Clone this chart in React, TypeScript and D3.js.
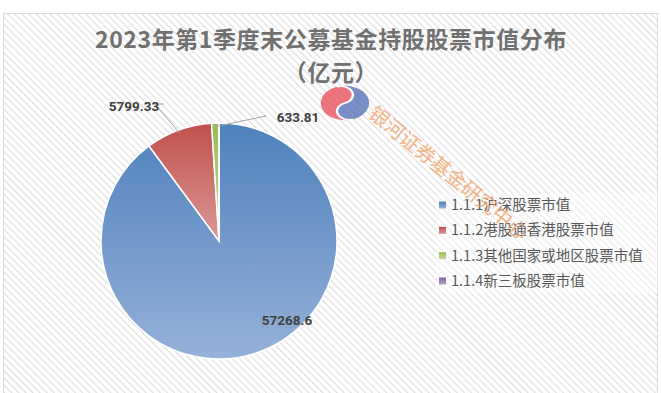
import React, { useEffect, useRef } from 'react';
import * as d3 from 'd3';

const categories = ['1.1.1沪深股票市值', '1.1.2港股通香港股票市值', '1.1.3其他国家或地区股票市值', '1.1.4新三板股票市值'];
const values = [57268.6, 5799.33, 633.81, 5];
const valueLabels = ['57268.6', '5799.33', '633.81', ''];
const colorsTop = ['#4F81BD', '#C0504D', '#9BBB59', '#8064A2'];
const colorsBottom = ['#95B1D8', '#DA9896', '#C3D69B', '#B3A2C7'];
const titleLines = ['2023年第1季度末公募基金持股股票市值分布', '（亿元）'];
const watermark = '银河证券基金研究中心';

const W = 662;
const H = 393;

export default function App() {
  const ref = useRef<SVGSVGElement>(null);

  useEffect(() => {
    const svg = d3.select(ref.current);
    svg.selectAll('*').remove();

    const defs = svg.append('defs');
    const pat = defs.append('pattern')
      .attr('id', 'hatch')
      .attr('width', 5)
      .attr('height', 5)
      .attr('patternUnits', 'userSpaceOnUse')
      .attr('patternTransform', 'rotate(-45)');
    pat.append('rect').attr('width', 5).attr('height', 5).attr('fill', '#ffffff');
    pat.append('line')
      .attr('x1', 0).attr('y1', 0).attr('x2', 0).attr('y2', 5)
      .attr('stroke', '#dedede').attr('stroke-width', 2.2);

    colorsTop.forEach((c, i) => {
      const g = defs.append('linearGradient')
        .attr('id', 'grad' + i)
        .attr('x1', 0).attr('y1', 0).attr('x2', 0).attr('y2', 1);
      g.append('stop').attr('offset', '0%').attr('stop-color', c);
      g.append('stop').attr('offset', '100%').attr('stop-color', colorsBottom[i]);
    });

    // chart area
    svg.append('rect')
      .attr('x', 3.5).attr('y', 13.5)
      .attr('width', 654).attr('height', 390)
      .attr('fill', 'url(#hatch)')
      .attr('stroke', '#d9d9d9');

    // title
    titleLines.forEach((t, i) => {
      svg.append('text')
        .attr('x', 331)
        .attr('y', 48 + i * 33)
        .attr('text-anchor', 'middle')
        .attr('font-family', '"Noto Sans CJK SC", sans-serif')
        .attr('font-size', 23)
        .attr('letter-spacing', 0.6)
        .attr('font-weight', 'bold')
        .attr('fill', '#707070')
        .text(t);
    });

    const cx = 219;
    const cy = 241;
    const r = 118;

    const pie = d3.pie<number>().sort(null).value(d => d);
    const arcs = pie(values);
    const arc = d3.arc<d3.PieArcDatum<number>>().innerRadius(0).outerRadius(r);

    const g = svg.append('g').attr('transform', `translate(${cx},${cy})`);
    g.selectAll('path')
      .data(arcs)
      .enter().append('path')
      .attr('d', arc)
      .attr('fill', (d, i) => `url(#grad${i})`)
      .attr('stroke', '#ffffff')
      .attr('stroke-width', 1.5);

    // leader lines and labels
    const outer = d3.arc<d3.PieArcDatum<number>>().innerRadius(r * 0.97).outerRadius(r * 0.97);
    const labelPos = [
      { x: 287, y: 320, elbow: null as null | [number, number], end: [0, 0] },
      { x: 134, y: 106, elbow: [-64, -137] as [number, number], end: [-55, -137] },
      { x: 298, y: 117, elbow: [47, -125] as [number, number], end: [45, -125] },
    ];
    arcs.forEach((a, i) => {
      if (!valueLabels[i]) return;
      const lp = labelPos[i];
      if (lp.elbow) {
        const p = outer.centroid(a);
        g.append('polyline')
          .attr('points', [[p[0], p[1]], lp.elbow, lp.end].map(q => q.join(',')).join(' '))
          .attr('fill', 'none')
          .attr('stroke', '#a6a6a6')
          .attr('stroke-width', 1);
      }
      svg.append('text')
        .attr('x', lp.x)
        .attr('y', lp.y + 4.5)
        .attr('text-anchor', 'middle')
        .attr('font-family', 'Roboto, sans-serif')
        .attr('font-size', 13.5)
        .attr('font-weight', 'bold')
        .attr('fill', '#404040')
        .text(valueLabels[i]);
    });

    // legend
    const leg = svg.append('g').attr('transform', 'translate(436,193)');
    leg.append('rect')
      .attr('x', 0).attr('y', 0).attr('width', 222).attr('height', 100)
      .attr('fill', '#ffffff').attr('opacity', 0.4);
    const rowY = d3.scalePoint<string>().domain(categories).range([12, 88]);
    categories.forEach((c, i) => {
      const y = rowY(c) as number;
      leg.append('rect')
        .attr('x', 3).attr('y', y - 3.5).attr('width', 7).attr('height', 7)
        .attr('fill', `url(#grad${i})`);
      leg.append('text')
        .attr('x', 15)
        .attr('y', y + 5)
        .attr('font-family', '"Noto Sans CJK SC", sans-serif')
        .attr('font-size', 14.5)
        .attr('fill', '#595959')
        .text(c);
    });

    // watermark logo + text (on top of everything)
    const logo = svg.append('g')
      .attr('transform', 'translate(345,103) scale(1.15,0.82) rotate(-110) scale(-1,1)')
      .attr('opacity', 0.8);
    const lr = 21;
    logo.append('path')
      .attr('d', `M ${-lr},0 A ${lr},${lr} 0 0 1 ${lr},0 A ${lr / 2},${lr / 2} 0 0 0 0,0 A ${lr / 2},${lr / 2} 0 0 1 ${-lr},0 Z`)
      .attr('fill', '#E8545F');
    logo.append('path')
      .attr('d', `M ${-lr},0 A ${lr / 2},${lr / 2} 0 0 0 0,0 A ${lr / 2},${lr / 2} 0 0 1 ${lr},0 A ${lr},${lr} 0 0 1 ${-lr},0 Z`)
      .attr('fill', '#5A74B8');
    logo.append('path')
      .attr('d', `M ${-lr},0 A ${lr / 2},${lr / 2} 0 0 0 0,0 A ${lr / 2},${lr / 2} 0 0 1 ${lr},0`)
      .attr('fill', 'none').attr('stroke', '#ffffff').attr('stroke-width', 2);

    svg.append('text')
      .attr('transform', 'translate(367,116) rotate(39)')
      .attr('font-family', '"Noto Sans CJK SC", sans-serif')
      .attr('font-size', 20)
      .attr('letter-spacing', -0.2)
      .attr('fill', '#F4A46A')
      .attr('opacity', 0.8)
      .text(watermark);
  }, []);

  return (
    <svg ref={ref} width={W} height={H} style={{ position: 'absolute', left: 0, top: 0 }} />
  );
}
